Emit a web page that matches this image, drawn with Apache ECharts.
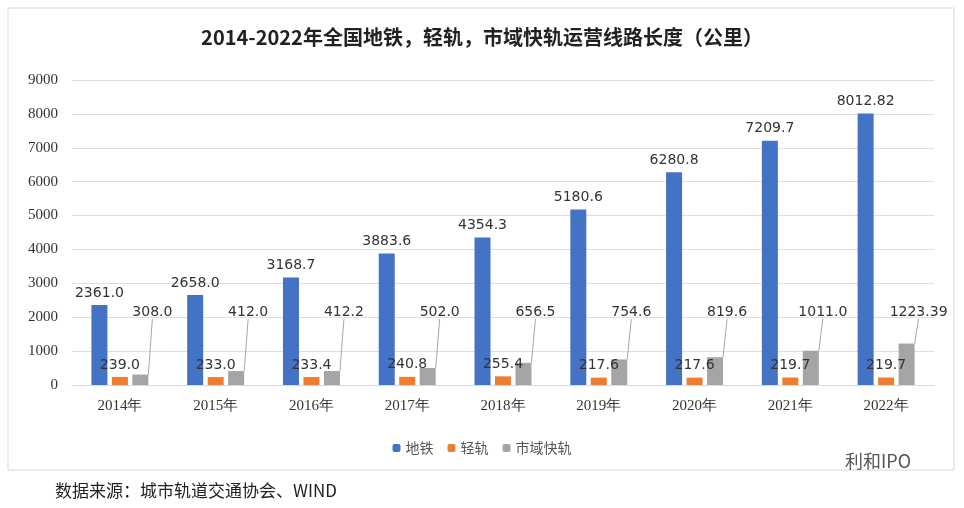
<!DOCTYPE html>
<html><head><meta charset="utf-8">
<script src="https://cdn.jsdelivr.net/npm/echarts@6/dist/echarts.min.js"></script>
<style>html,body{margin:0;padding:0;background:#fff}#c{width:964px;height:508px}</style>
</head><body><div id="c"></div>
<script>
const categories = ['2014年','2015年','2016年','2017年','2018年','2019年','2020年','2021年','2022年'];
const metro = [2361.0,2658.0,3168.7,3883.6,4354.3,5180.6,6280.8,7209.7,8012.82];
const lightRail = [239.0,233.0,233.4,240.8,255.4,217.6,217.6,219.7,219.7];
const suburban = [308.0,412.0,412.2,502.0,656.5,754.6,819.6,1011.0,1223.39];
const metroLabels = ['2361.0','2658.0','3168.7','3883.6','4354.3','5180.6','6280.8','7209.7','8012.82'];
const lightLabels = ['239.0','233.0','233.4','240.8','255.4','217.6','217.6','219.7','219.7'];
const subLabels = ['308.0','412.0','412.2','502.0','656.5','754.6','819.6','1011.0','1223.39'];
const chart = echarts.init(document.getElementById('c'));
const lbl = {show:true,position:'top',color:'#333',fontSize:14,fontFamily:'DejaVu Sans'};
chart.setOption({
  animation:false,
  title:{text:'2014-2022年全国地铁，轻轨，市域快轨运营线路长度（公里）',left:'center',top:22,
    textStyle:{fontSize:20,fontWeight:'bold',color:'#222',fontFamily:'Noto Sans CJK SC'}},
  legend:{bottom:48,left:'center',itemWidth:8,itemHeight:8,itemGap:14,
    textStyle:{fontSize:14,color:'#555',fontFamily:'Noto Sans CJK SC'},
    data:['地铁','轻轨','市域快轨']},
  grid:{left:72,right:30,top:80,bottom:123},
  xAxis:{type:'category',data:categories,axisTick:{show:false},
    axisLine:{lineStyle:{color:'#d9d9d9'}},
    axisLabel:{fontSize:15,color:'#333',fontFamily:'Liberation Serif',margin:14}},
  yAxis:{type:'value',min:0,max:9000,interval:1000,
    axisLabel:{fontSize:15,color:'#333',fontFamily:'Liberation Serif',margin:14,formatter:v=>String(v)}},
  series:[
    {name:'地铁',type:'bar',data:metro,barWidth:16,barGap:'28%',itemStyle:{color:'#4472C4'},
     label:Object.assign({},lbl,{formatter:p=>metroLabels[p.dataIndex]})},
    {name:'轻轨',type:'bar',data:lightRail,barWidth:16,itemStyle:{color:'#ED7D31'},
     label:Object.assign({},lbl,{formatter:p=>lightLabels[p.dataIndex]})},
    {name:'市域快轨',type:'bar',data:suburban,barWidth:16,itemStyle:{color:'#A5A5A5'},
     label:Object.assign({},lbl,{formatter:p=>subLabels[p.dataIndex]}),
     labelLine:{show:true,lineStyle:{color:'#a6a6a6',width:1}},
     labelLayout:function(p){return {x:p.rect.x+p.rect.width/2+12,y:312,align:'center',verticalAlign:'middle'};}}
  ],
  graphic:[
    {type:'rect',shape:{x:8,y:8,width:946,height:462},style:{fill:'none',stroke:'#d9d9d9',lineWidth:1}},
    {type:'text',left:55,top:482,style:{text:'数据来源：城市轨道交通协会、WIND',fontSize:17,fill:'#222',fontFamily:'Noto Sans CJK SC'}},
    {type:'text',left:845,top:452,style:{text:'利和IPO',fontSize:18,fill:'#555',fontFamily:'Noto Sans CJK SC'}}
  ]
});
</script></body></html>
